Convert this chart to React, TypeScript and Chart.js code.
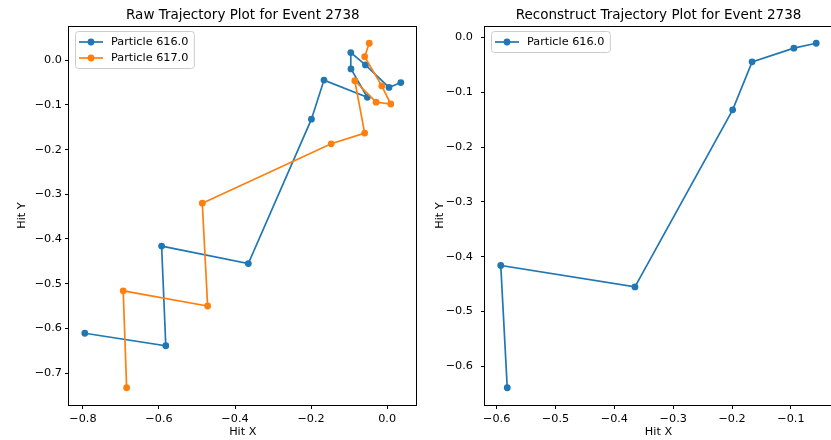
import { useEffect, useRef } from "react";
import { Chart, registerables } from "chart.js";

Chart.register(...registerables);

const EVENT_ID = 2738;

// Raw hits, particle 616.0
const RAW_616_X = [-0.795, -0.582, -0.593, -0.365, -0.199, -0.166, -0.052, -0.095, -0.0955, -0.057, 0.005, 0.036];
const RAW_616_Y = [-0.611, -0.639, -0.416, -0.455, -0.132, -0.0445, -0.083, -0.0195, 0.017, -0.0105, -0.061, -0.05];

// Raw hits, particle 617.0
const RAW_617_X = [-0.685, -0.694, -0.472, -0.486, -0.147, -0.059, -0.085, -0.029, 0.0095, -0.014, -0.059, -0.047];
const RAW_617_Y = [-0.733, -0.516, -0.55, -0.32, -0.187, -0.163, -0.046, -0.094, -0.098, -0.0575, 0.008, 0.038];

// Reconstructed track, particle 616.0
const REC_616_X = [-0.582, -0.593, -0.365, -0.199, -0.166, -0.095, -0.057];
const REC_616_Y = [-0.639, -0.416, -0.455, -0.132, -0.0445, -0.0195, -0.0105];

const RAW_X_TICKS = [-0.8, -0.6, -0.4, -0.2, 0.0];
const RAW_Y_TICKS = [0.0, -0.1, -0.2, -0.3, -0.4, -0.5, -0.6, -0.7];
const REC_X_TICKS = [-0.6, -0.5, -0.4, -0.3, -0.2, -0.1];
const REC_Y_TICKS = [0.0, -0.1, -0.2, -0.3, -0.4, -0.5, -0.6];

const BLUE = "#1f77b4";
const ORANGE = "#ff7f0e";
const FONT = "'DejaVu Sans', 'Liberation Sans', sans-serif";
const TICK_SIZE = 11.25;
const TITLE_SIZE = 13.5;

type Series = { label: string; color: string; xs: number[]; ys: number[] };

type PanelSpec = {
  title: string;
  series: Series[];
  xTicks: number[];
  yTicks: number[];
  yAxisWidth: number;
  padRight: number;
  yTickPad: number;
  yTitlePad: number;
};

function fmt(v: number): string {
  const s = Math.abs(v).toFixed(1);
  return v < -1e-9 ? "\u2212" + s : s;
}

// 5% margins around the data, like an autoscaled axis
function paddedRange(values: number[]): [number, number] {
  const lo = Math.min(...values);
  const hi = Math.max(...values);
  const m = (hi - lo) * 0.05;
  return [lo - m, hi + m];
}

function roundedRect(ctx: CanvasRenderingContext2D, x: number, y: number, w: number, h: number, r: number) {
  ctx.beginPath();
  ctx.moveTo(x + r, y);
  ctx.lineTo(x + w - r, y);
  ctx.arcTo(x + w, y, x + w, y + r, r);
  ctx.lineTo(x + w, y + h - r);
  ctx.arcTo(x + w, y + h, x + w - r, y + h, r);
  ctx.lineTo(x + r, y + h);
  ctx.arcTo(x, y + h, x, y + h - r, r);
  ctx.lineTo(x, y + r);
  ctx.arcTo(x, y, x + r, y, r);
  ctx.closePath();
}

function panelDecor(spec: PanelSpec) {
  return {
    id: "panelDecor",
    afterDraw(chart: Chart) {
      const { ctx, chartArea } = chart;
      const { left, top, right, bottom } = chartArea;
      ctx.save();

      // axes frame
      ctx.strokeStyle = "#000";
      ctx.lineWidth = 1;
      const l = Math.round(left) - 0.5;
      const t = Math.round(top) + 0.5;
      const r = Math.round(right) - 0.5;
      const b = Math.round(bottom) + 0.5;
      ctx.strokeRect(l, t, r - l, b - t);

      // title
      ctx.fillStyle = "#000";
      ctx.font = `${TITLE_SIZE}px ${FONT}`;
      ctx.textAlign = "center";
      ctx.textBaseline = "alphabetic";
      ctx.fillText(spec.title, (left + right) / 2, 18.5);

      // legend in the upper-left corner
      ctx.font = `${TICK_SIZE}px ${FONT}`;
      const widths = spec.series.map((s) => ctx.measureText(s.label).width);
      const bx = left + 6.5;
      const by = top + 5.5;
      const bw = 35.5 + Math.max(...widths) + 6;
      const bh = 5 + 16 * spec.series.length;
      roundedRect(ctx, bx, by, bw, bh, 3);
      ctx.fillStyle = "rgba(255,255,255,0.8)";
      ctx.fill();
      ctx.strokeStyle = "#cccccc";
      ctx.lineWidth = 1;
      ctx.stroke();

      spec.series.forEach((s, i) => {
        const cy = by + 10.5 + i * 16;
        ctx.strokeStyle = s.color;
        ctx.lineWidth = 1.7;
        ctx.beginPath();
        ctx.moveTo(bx + 3.5, cy);
        ctx.lineTo(bx + 27.5, cy);
        ctx.stroke();
        ctx.fillStyle = s.color;
        ctx.beginPath();
        ctx.arc(bx + 15.5, cy, 3.4, 0, Math.PI * 2);
        ctx.fill();
        ctx.fillStyle = "#000";
        ctx.textAlign = "left";
        ctx.textBaseline = "middle";
        ctx.fillText(s.label, bx + 35.5, cy + 0.5);
      });

      ctx.restore();
    },
  };
}

function buildConfig(spec: PanelSpec): any {
  const allX = spec.series.flatMap((s) => s.xs);
  const allY = spec.series.flatMap((s) => s.ys);
  const [xMin, xMax] = paddedRange(allX);
  const [yMin, yMax] = paddedRange(allY);
  const n = spec.series.length;

  const tickFont = { family: FONT, size: TICK_SIZE };
  const grid = {
    drawOnChartArea: false,
    drawTicks: true,
    tickLength: 4,
    tickColor: "#000",
    color: "#000",
    lineWidth: 1,
  };

  return {
    type: "scatter",
    data: {
      datasets: spec.series.map((s, i) => ({
        label: s.label,
        data: s.xs.map((x, k) => ({ x, y: s.ys[k] })),
        showLine: true,
        borderColor: s.color,
        backgroundColor: s.color,
        borderWidth: 1.7,
        pointRadius: 3.4,
        pointBorderWidth: 0,
        pointBackgroundColor: s.color,
        pointHoverRadius: 3.4,
        tension: 0,
        order: n - i,
      })),
    },
    options: {
      animation: false,
      responsive: false,
      maintainAspectRatio: false,
      events: [],
      layout: { padding: { left: 0, top: 26, right: spec.padRight, bottom: 0 } },
      plugins: {
        legend: { display: false },
        title: { display: false },
        tooltip: { enabled: false },
      },
      scales: {
        x: {
          type: "linear",
          min: xMin,
          max: xMax,
          afterBuildTicks: (scale: any) => {
            scale.ticks = spec.xTicks.map((v) => ({ value: v }));
          },
          afterFit: (scale: any) => {
            scale.height = 35;
          },
          ticks: {
            callback: (v: number) => fmt(v),
            font: tickFont,
            color: "#000",
            padding: 3.5,
            maxRotation: 0,
            autoSkip: false,
          },
          grid,
          border: { display: false },
          title: {
            display: true,
            text: "Hit X",
            color: "#000",
            font: tickFont,
            padding: { top: 0, bottom: 0.75 },
          },
        },
        y: {
          type: "linear",
          min: yMin,
          max: yMax,
          afterBuildTicks: (scale: any) => {
            scale.ticks = spec.yTicks.map((v) => ({ value: v }));
          },
          afterFit: (scale: any) => {
            scale.width = spec.yAxisWidth;
          },
          ticks: {
            callback: (v: number) => fmt(v),
            font: tickFont,
            color: "#000",
            padding: spec.yTickPad,
            autoSkip: false,
          },
          grid,
          border: { display: false },
          title: {
            display: true,
            text: "Hit Y",
            color: "#000",
            font: tickFont,
            padding: { top: spec.yTitlePad, bottom: 0 },
          },
        },
      },
    },
    plugins: [panelDecor(spec)],
  };
}

const RAW_PANEL: PanelSpec = {
  title: `Raw Trajectory Plot for Event ${EVENT_ID}`,
  series: [
    { label: "Particle 616.0", color: BLUE, xs: RAW_616_X, ys: RAW_616_Y },
    { label: "Particle 617.0", color: ORANGE, xs: RAW_617_X, ys: RAW_617_Y },
  ],
  xTicks: RAW_X_TICKS,
  yTicks: RAW_Y_TICKS,
  yAxisWidth: 69,
  padRight: 3.4,
  yTickPad: 3,
  yTitlePad: 15.5,
};

const REC_PANEL: PanelSpec = {
  title: `Reconstruct Trajectory Plot for Event ${EVENT_ID}`,
  series: [{ label: "Particle 616.0", color: BLUE, xs: REC_616_X, ys: REC_616_Y }],
  xTicks: REC_X_TICKS,
  yTicks: REC_Y_TICKS,
  yAxisWidth: 65,
  padRight: 8,
  yTickPad: 8,
  yTitlePad: 13.25,
};

function Panel({ spec, left }: { spec: PanelSpec; left: number }) {
  const ref = useRef<HTMLCanvasElement | null>(null);
  useEffect(() => {
    if (!ref.current) return;
    const chart = new Chart(ref.current, buildConfig(spec));
    return () => chart.destroy();
  }, [spec]);
  return (
    <canvas
      ref={ref}
      width={420}
      height={440}
      style={{ position: "absolute", left, top: 0, width: 420, height: 440, display: "block" }}
    />
  );
}

export default function App() {
  return (
    <div
      style={{
        position: "fixed",
        left: 0,
        top: 0,
        width: 831,
        height: 440,
        overflow: "hidden",
        background: "#fff",
      }}
    >
      <Panel spec={RAW_PANEL} left={0} />
      <Panel spec={REC_PANEL} left={420} />
    </div>
  );
}
